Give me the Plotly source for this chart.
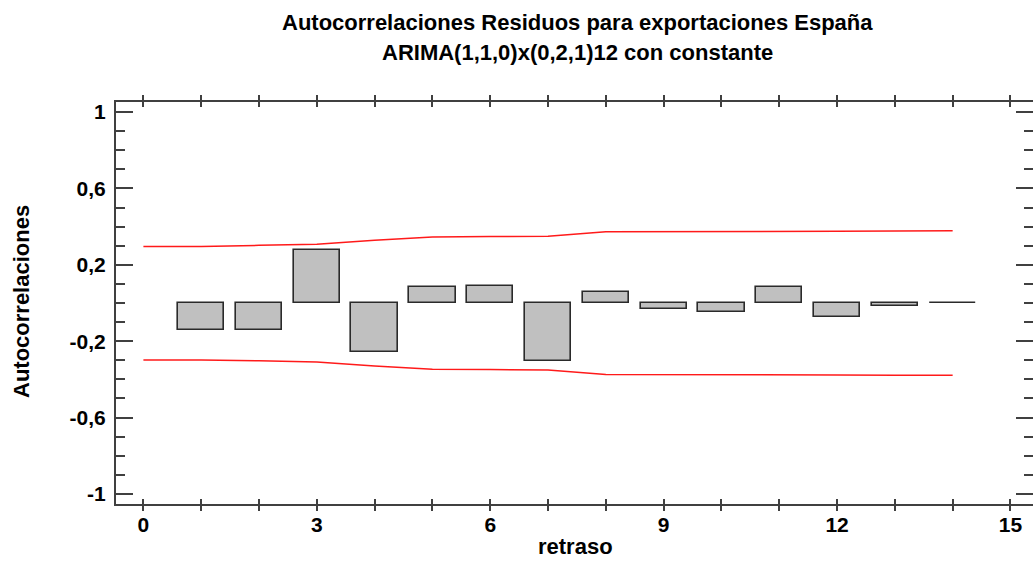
import plotly.graph_objects as go

# ---- data ----
lags = list(range(1, 15))
acf = [-0.142, -0.142, 0.280, -0.256, 0.084, 0.091, -0.305, 0.056,
       -0.033, -0.045, 0.084, -0.074, -0.017, -0.002]
limit_lags = list(range(0, 15))
upper_limit = [0.296, 0.296, 0.302, 0.308, 0.329, 0.346, 0.348, 0.350,
               0.373, 0.373, 0.374, 0.374, 0.376, 0.377, 0.378]
lower_limit = [-0.298, -0.298, -0.303, -0.309, -0.330, -0.347, -0.349, -0.351,
               -0.374, -0.374, -0.375, -0.375, -0.377, -0.378, -0.379]
x_tickvals = list(range(0, 16))
x_ticktext = ["0", "", "", "3", "", "", "6", "", "", "9", "", "", "12", "", "", "15"]
y_tickvals = [-1, -0.6, -0.2, 0.2, 0.6, 1]
y_ticktext = ["-1", "-0,6", "-0,2", "0,2", "0,6", "1"]
y_minorvals = [-0.9, -0.8, -0.7, -0.5, -0.4, -0.3, -0.1, 0.0, 0.1,
               0.3, 0.4, 0.5, 0.7, 0.8, 0.9]

title1 = "Autocorrelaciones Residuos para exportaciones España"
title2 = "ARIMA(1,1,0)x(0,2,1)12 con constante"
xtitle = "retraso"
ytitle = "Autocorrelaciones"

FONT = "Liberation Sans, Arial, sans-serif"
AX = "#404040"
YR = [-1.053, 1.053]
XR = [-0.474, 15.39]

# plot area in pixels
L, R, T, B = 116, 1033, 102, 504
W, H = 1033, 562

def px_x(p):
    return (p - L) / (R - L)

def px_y(p):
    return (B - p) / (B - T)

fig = go.Figure()
fig.add_trace(go.Bar(
    x=lags, y=acf, width=0.8,
    marker=dict(color="#C0C0C0", line=dict(color="#2A2A2A", width=1.6)),
    showlegend=False, hoverinfo="x+y"))
fig.add_trace(go.Scatter(
    x=limit_lags, y=upper_limit, mode="lines",
    line=dict(color="#FF1A1A", width=1.5), showlegend=False))
fig.add_trace(go.Scatter(
    x=limit_lags, y=lower_limit, mode="lines", yaxis="y2",
    line=dict(color="#FF1A1A", width=1.5), showlegend=False))

tickfont = dict(family=FONT, size=21, color="black", weight="bold")
labfont = dict(family=FONT, size=22, color="black", weight="bold")

fig.update_layout(
    width=W, height=H,
    margin=dict(l=L, r=W - R, t=T, b=H - B, pad=0),
    paper_bgcolor="white", plot_bgcolor="white",
    bargap=0,
    xaxis=dict(
        range=XR, showgrid=False, zeroline=False,
        showline=True, linecolor=AX, linewidth=2, mirror="allticks",
        ticks="inside", ticklen=5, tickwidth=1.5, tickcolor=AX,
        tickmode="array", tickvals=x_tickvals, ticktext=x_ticktext,
        tickfont=tickfont, ticklabelstandoff=1),
    yaxis=dict(
        range=YR, showgrid=False, zeroline=False,
        showline=True, linecolor=AX, linewidth=2, mirror=False,
        ticks="inside", ticklen=17, tickwidth=1.5, tickcolor=AX,
        tickmode="array", tickvals=y_tickvals, ticktext=y_ticktext,
        tickfont=tickfont, ticklabelstandoff=4,
        minor=dict(tickmode="array", tickvals=y_minorvals, ticks="inside",
                   ticklen=9, tickwidth=1.5, tickcolor=AX, showgrid=False)),
    yaxis2=dict(
        range=YR, overlaying="y", side="right", anchor="x",
        showgrid=False, zeroline=False, showline=False,
        ticks="inside", ticklen=17, tickwidth=1.5, tickcolor=AX,
        tickmode="array", tickvals=y_tickvals, showticklabels=False,
        minor=dict(tickmode="array", tickvals=y_minorvals, ticks="inside",
                   ticklen=9, tickwidth=1.5, tickcolor=AX, showgrid=False)),
    annotations=[
        dict(text=title1, xref="paper", yref="paper", x=px_x(577), y=px_y(22),
             xanchor="center", yanchor="middle", showarrow=False, font=labfont),
        dict(text=title2, xref="paper", yref="paper", x=px_x(577), y=px_y(52),
             xanchor="center", yanchor="middle", showarrow=False, font=labfont),
        dict(text=xtitle, xref="paper", yref="paper", x=px_x(575), y=px_y(561),
             xanchor="center", yanchor="bottom", showarrow=False, font=labfont),
        dict(text=ytitle, xref="paper", yref="paper", x=px_x(21), y=px_y(302),
             xanchor="center", yanchor="middle", showarrow=False, textangle=-90,
             font=labfont),
    ],
)

fig.write_html("out.html")
